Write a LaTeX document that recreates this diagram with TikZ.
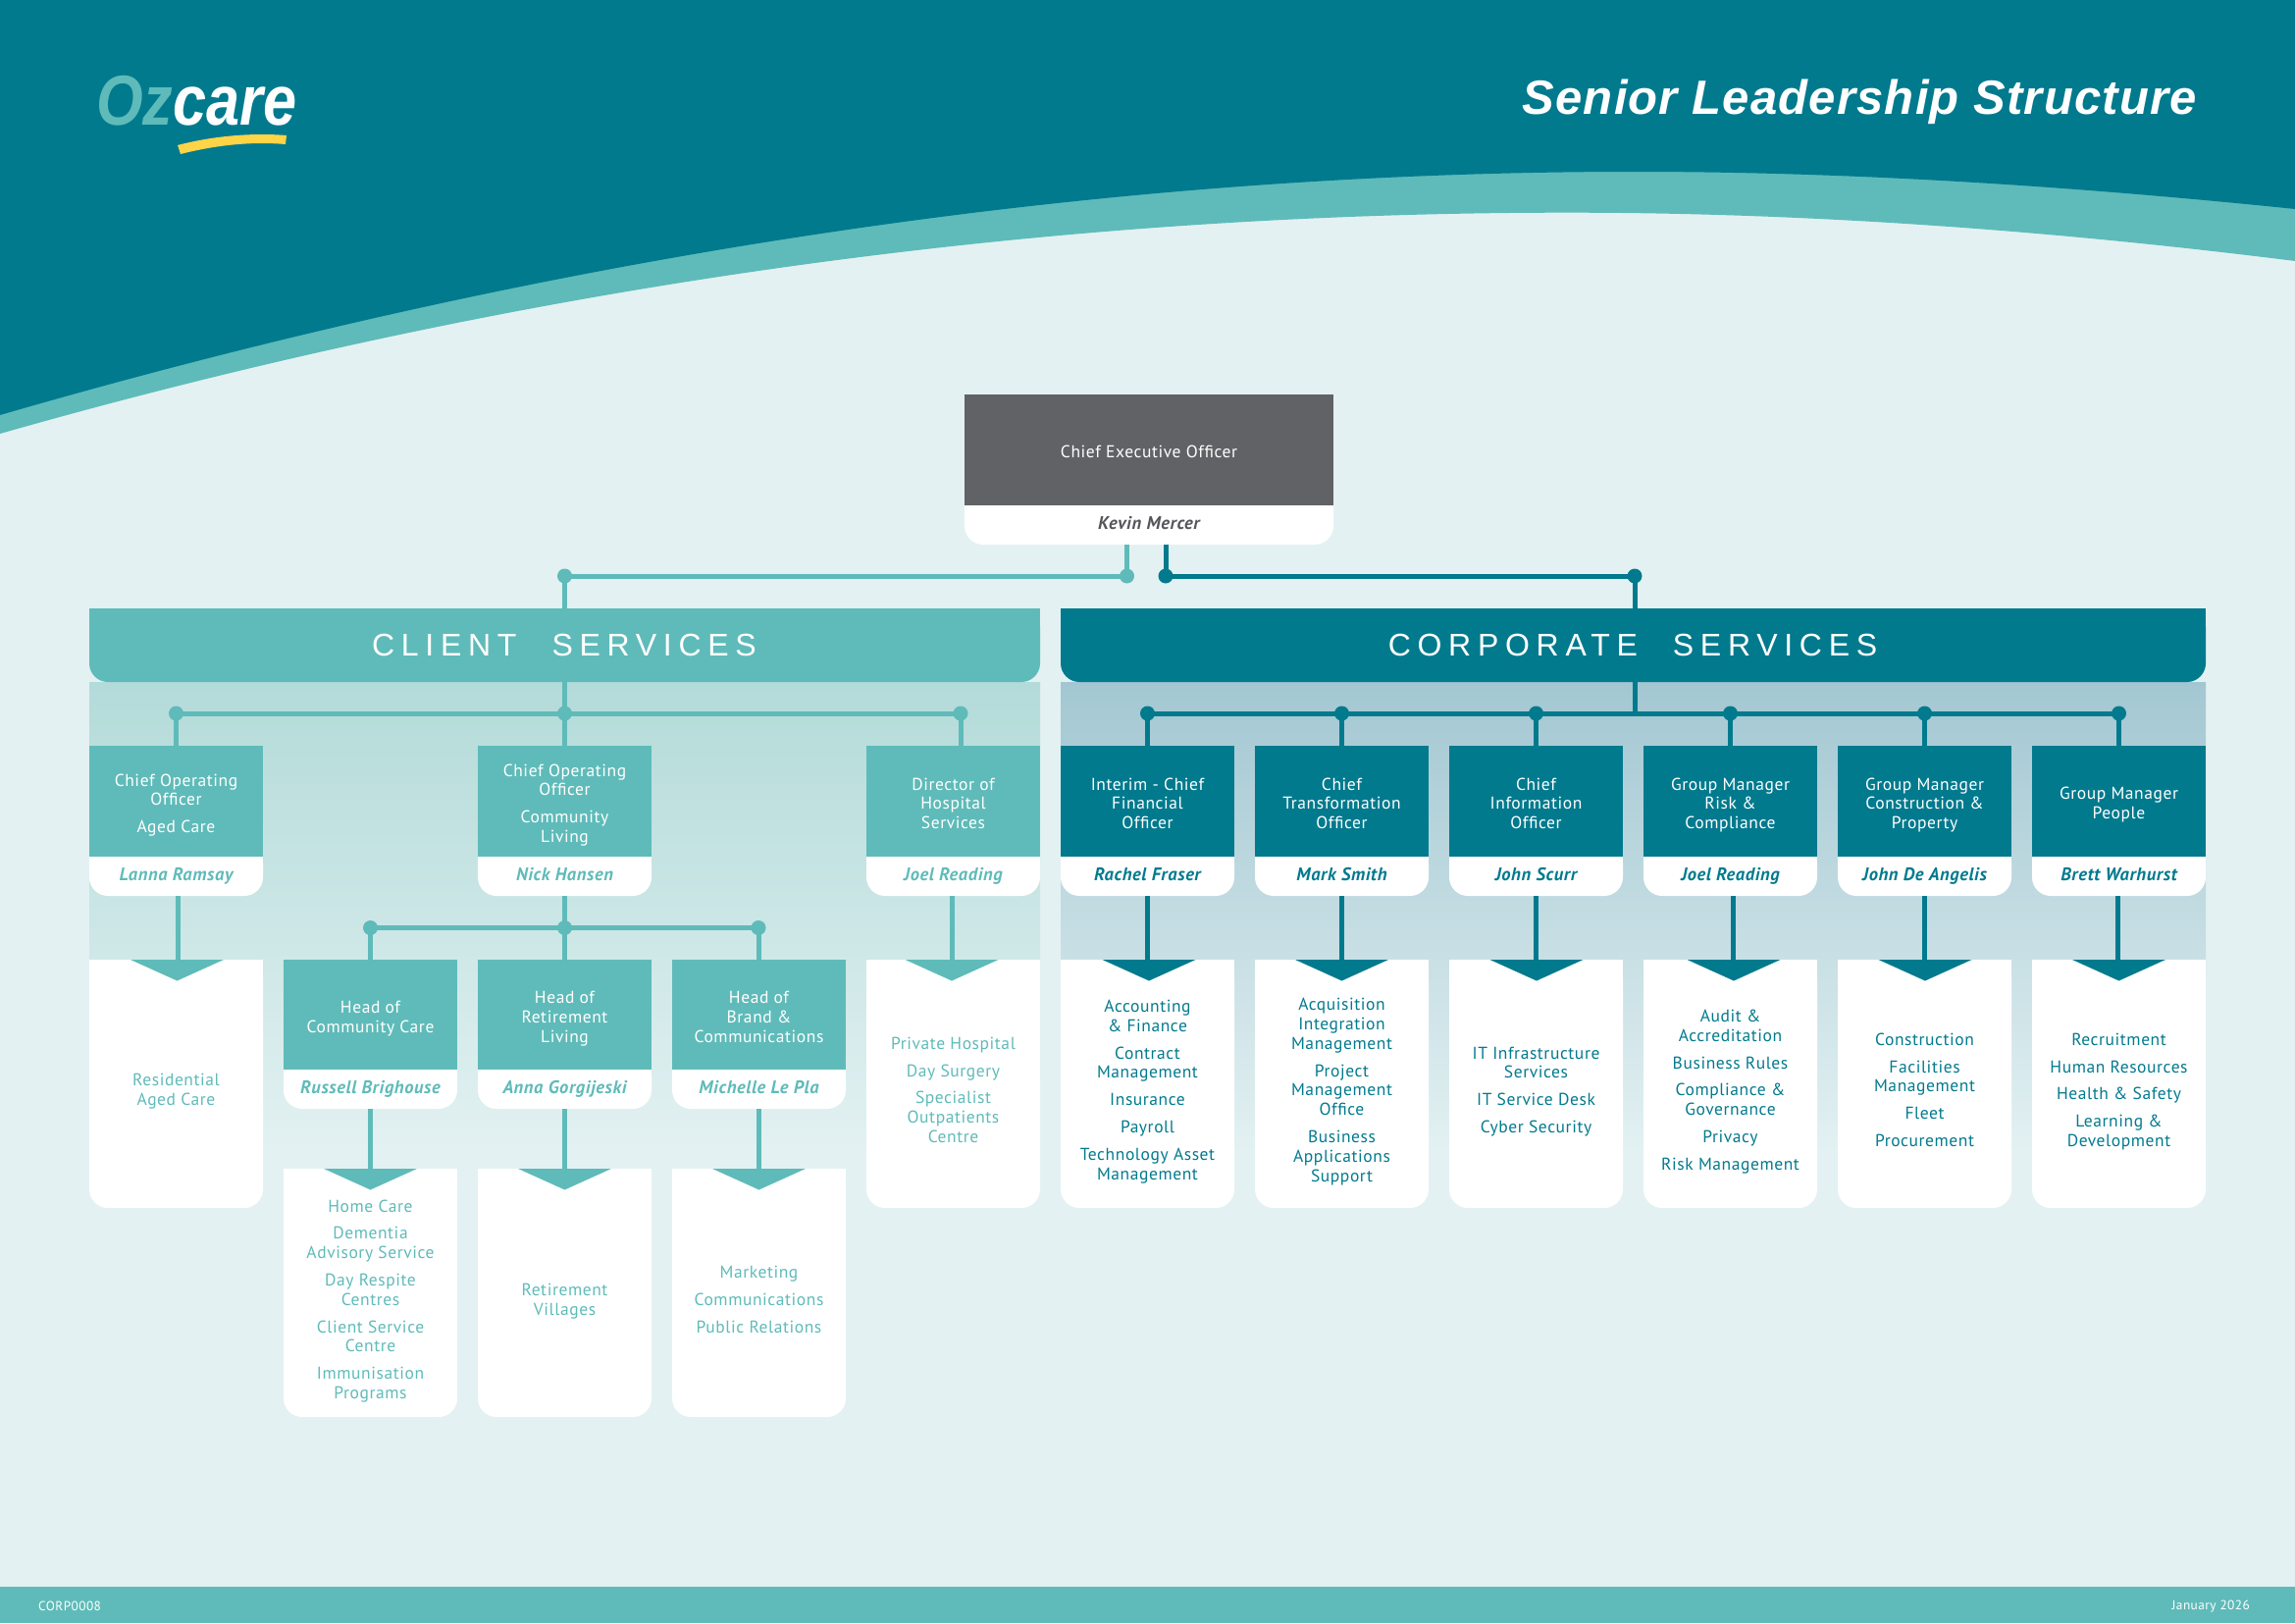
\documentclass[tikz,border=0pt]{standalone}
\usepackage{fontspec}
\setmainfont{PT Sans}
\newfontfamily\bandfont[LetterSpace=21]{Liberation Sans}
\newfontfamily\titlefont[LetterSpace=2.4]{Liberation Sans}
\newfontfamily\logofont{Liberation Sans}
\newfontfamily\bodyfont[LetterSpace=3.3]{PT Sans}
\definecolor{darkteal}{HTML}{027A8E}
\definecolor{liteteal}{HTML}{5FBBB9}
\definecolor{pagebg}{HTML}{E3F1F2}
\definecolor{ceogrey}{HTML}{616265}
\definecolor{ceoname}{HTML}{55565A}
\definecolor{fadeteal}{HTML}{B3DBD9}
\definecolor{fadeblue}{HTML}{A3C7D2}
\definecolor{logoyellow}{HTML}{FFD447}
\usetikzlibrary{calc}
\tikzset{
  x=1pt,y=-1pt,
  bodytext/.style={font=\bodyfont\fontsize{17.5}{19.8}\selectfont,align=center,inner sep=0pt,text=#1,
    execute at begin node={\vphantom{Ag}},execute at end node={\vphantom{Ag}}},
  headtext/.style={bodytext=white},
  persontext/.style={font=\bodyfont\bfseries\itshape\fontsize{18.5}{20}\selectfont,inner sep=0pt,text=#1,anchor=base},
  headbox/.style={fill=#1,anchor=north west,minimum width=177pt,inner sep=0pt,outer sep=0pt},
  roundplate/.style={fill=white,anchor=north west,minimum width=177pt,inner sep=0pt,outer sep=0pt,rounded corners=19pt},
  bulletdot/.style={circle,fill=#1,minimum size=15pt,inner sep=0pt,outer sep=0pt},
  linkline/.style={draw=#1,line width=5pt},
  bandtext/.style={font=\bandfont\fontsize{32}{36}\selectfont,text=white,inner sep=0pt},
  foottext/.style={inner sep=0pt,text=white,font=\bodyfont\fontsize{13.3}{15}\selectfont},
}
% name, x, y-top, box height, colour, title, person
\newcommand{\leadbox}[7]{%
  \pgfmathsetmacro{\plateY}{#3+#4-12}%
  \pgfmathsetmacro{\boxCX}{#2+88.5}%
  \pgfmathsetmacro{\boxCY}{#3+#4/2+4}%
  \pgfmathsetmacro{\nameCY}{#3+#4+24}%
  \node[roundplate,minimum height=52pt] (#1p) at (#2,\plateY) {};
  \fill[white] (#1p.north west) rectangle (#1p.east);
  \node[headbox=#5,minimum height=#4 pt] (#1h) at (#2,#3) {};
  \node[headtext] (#1t) at (\boxCX,\boxCY) {#6};
  \node[persontext=#5] (#1n) at (\boxCX,\nameCY) {#7};
}
% name, x, top, bottom, colour, text, text centre y, text centre x
\newcommand{\itempanel}[8]{%
  \pgfmathsetmacro{\panelH}{#4-#3}%
  \node[roundplate,minimum height=\panelH pt] (#1) at (#2,#3) {};
  \fill[white] (#1.north west) rectangle (#1.east);
  \node[bodytext=#5] (#1t) at (#8,#7) {#6};
}
% lead plate, panel, colour, line x, triangle centre x
\newcommand{\dropline}[5]{%
  \coordinate (#2a) at (#4,0);
  \coordinate (#2c) at (#5,0);
  \draw[linkline=#3] (#1p.south -| #2a) -- (#2.north -| #2a);
  \fill[#3] ($(#2.north -| #2c)+(-47.5,0)$) -- ($(#2.north -| #2c)+(47.5,0)$) -- ($(#2.north -| #2c)+(0,21.5)$) -- cycle;
}
\begin{document}
\begin{tikzpicture}
\useasboundingbox (0,0) rectangle (2339,1654);
\fill[pagebg] (0,0) rectangle (2339,1654);
% header
\fill[liteteal] (0,0) -- (0,442) .. controls (533,290) and (1065,216.7) .. (1598,216.7) .. controls (1845,216.7) and (2092,235) .. (2339,266) -- (2339,0) -- cycle;
\fill[darkteal] (0,0) -- (0,423) .. controls (555,262) and (1111,175) .. (1666,175) .. controls (1890,175) and (2115,190) .. (2339,213) -- (2339,0) -- cycle;
% logo
\node[anchor=base west,inner sep=0pt,xscale=.85,font=\logofont\bfseries\itshape\fontsize{72}{72}\selectfont] (logo) at (98,127) {\textcolor{liteteal}{Oz}\textcolor{white}{care}};
\fill[logoyellow] (181,148) .. controls (215,139) and (255,135) .. (292,138) -- (291,147) .. controls (255,144) and (220,148) .. (184,157) -- cycle;
\node[anchor=base east,inner sep=0pt,text=white,font=\titlefont\bfseries\itshape\fontsize{49}{50}\selectfont] (title) at (2239,116) {Senior Leadership Structure};
% footer
\fill[liteteal] (0,1617) rectangle (2339,1654);
\node[foottext,anchor=west] (code) at (39,1637) {CORP0008};
\node[foottext,anchor=east] (date) at (2293,1637) {January 2026};
% fading panels
\shade[top color=fadeteal,bottom color=pagebg] (91,695) rectangle (1060,1175);
\shade[top color=fadeblue,bottom color=pagebg] (1081,695) rectangle (2248,1175);
% bands
\node[roundplate,fill=liteteal,minimum width=969pt,minimum height=75pt] (clientband) at (91,620) {};
\fill[liteteal] (clientband.north west) rectangle (clientband.east);
\node[roundplate,fill=darkteal,minimum width=1167pt,minimum height=75pt] (corpband) at (1081,620) {};
\fill[darkteal] (corpband.north west) rectangle (corpband.east);
\node[bandtext] (clienttext) at (575,657) {CLIENT\hspace{36pt}SERVICES};
\node[bandtext] (corptext) at (1664,657) {CORPORATE\hspace{36pt}SERVICES};
% CEO
\node[roundplate,minimum width=376pt,minimum height=60pt] (ceop) at (983,495) {};
\fill[white] (ceop.north west) rectangle (ceop.east);
\node[headbox=ceogrey,minimum width=376pt,minimum height=113pt] (ceoh) at (983,402) {};
\node[headtext] (ceot) at (1171,462) {Chief Executive Officer};
\node[persontext=ceoname] (ceon) at (1171,539) {Kevin Mercer};
% client leaders
\leadbox{ca}{91}{760}{113}{liteteal}{Chief Operating\\Officer\\[8pt]Aged Care}{Lanna Ramsay}
\leadbox{cb}{487}{760}{113}{liteteal}{Chief Operating\\Officer\\[8pt]Community\\Living}{Nick Hansen}
\leadbox{cc}{883}{760}{113}{liteteal}{Director of\\Hospital\\Services}{Joel Reading}
\leadbox{sa}{289}{978}{112}{liteteal}{Head of\\Community Care}{Russell Brighouse}
\leadbox{sb}{487}{978}{112}{liteteal}{Head of\\Retirement\\Living}{Anna Gorgijeski}
\leadbox{sc}{685}{978}{112}{liteteal}{Head of\\Brand \&\\Communications}{Michelle Le Pla}
% corporate leaders
\leadbox{da}{1081}{760}{113}{darkteal}{Interim - Chief\\Financial\\Officer}{Rachel Fraser}
\leadbox{db}{1279}{760}{113}{darkteal}{Chief\\Transformation\\Officer}{Mark Smith}
\leadbox{dc}{1477}{760}{113}{darkteal}{Chief\\Information\\Officer}{John Scurr}
\leadbox{dd}{1675}{760}{113}{darkteal}{Group Manager\\Risk \&\\Compliance}{Joel Reading}
\leadbox{de}{1873}{760}{113}{darkteal}{Group Manager\\Construction \&\\Property}{John De Angelis}
\leadbox{df}{2071}{760}{113}{darkteal}{Group Manager\\People}{Brett Warhurst}
% panels
\itempanel{pca}{91}{978}{1231}{liteteal}{Residential\\Aged Care}{1112.5}{179.5}
\itempanel{pcc}{883}{978}{1231}{liteteal}{Private Hospital\\[8pt]Day Surgery\\[8pt]Specialist\\Outpatients\\Centre}{1112.5}{971.5}
\itempanel{psa}{289}{1191}{1444}{liteteal}{Home Care\\[8pt]Dementia\\Advisory Service\\[8pt]Day Respite\\Centres\\[8pt]Client Service\\Centre\\[8pt]Immunisation\\Programs}{1326}{377.5}
\itempanel{psb}{487}{1191}{1444}{liteteal}{Retirement\\Villages}{1326}{575.5}
\itempanel{psc}{685}{1191}{1444}{liteteal}{Marketing\\[8pt]Communications\\[8pt]Public Relations}{1326}{773.5}
\itempanel{pda}{1081}{978}{1231}{darkteal}{Accounting\\\& Finance\\[8pt]Contract\\Management\\[8pt]Insurance\\[8pt]Payroll\\[8pt]Technology Asset\\Management}{1112.5}{1169.5}
\itempanel{pdb}{1279}{978}{1231}{darkteal}{Acquisition\\Integration\\Management\\[8pt]Project\\Management\\Office\\[8pt]Business\\Applications\\Support}{1112.5}{1367.5}
\itempanel{pdc}{1477}{978}{1231}{darkteal}{IT Infrastructure\\Services\\[8pt]IT Service Desk\\[8pt]Cyber Security}{1112.5}{1565.5}
\itempanel{pdd}{1675}{978}{1231}{darkteal}{Audit \&\\Accreditation\\[8pt]Business Rules\\[8pt]Compliance \&\\Governance\\[8pt]Privacy\\[8pt]Risk Management}{1112.5}{1763.5}
\itempanel{pde}{1873}{978}{1231}{darkteal}{Construction\\[8pt]Facilities\\Management\\[8pt]Fleet\\[8pt]Procurement}{1112.5}{1961.5}
\itempanel{pdf}{2071}{978}{1231}{darkteal}{Recruitment\\[8pt]Human Resources\\[8pt]Health \& Safety\\[8pt]Learning \&\\Development}{1112.5}{2159.5}
% bullets
\node[bulletdot=liteteal] (ceoL) at (1148.5,587) {};
\node[bulletdot=liteteal] (csTop) at (575.5,587) {};
\node[bulletdot=darkteal] (ceoR) at (1188,587) {};
\node[bulletdot=darkteal] (dsTop) at (1666,587) {};
\node[bulletdot=liteteal] (cr1) at (179.5,727) {};
\node[bulletdot=liteteal] (cr2) at (575.5,727) {};
\node[bulletdot=liteteal] (cr3) at (979,727) {};
\node[bulletdot=liteteal] (sr1) at (377.5,945.5) {};
\node[bulletdot=liteteal] (sr2) at (575.5,945.5) {};
\node[bulletdot=liteteal] (sr3) at (773,945.5) {};
\node[bulletdot=darkteal] (dr1) at (1169.5,727) {};
\node[bulletdot=darkteal] (dr2) at (1367.5,727) {};
\node[bulletdot=darkteal] (dr3) at (1565.5,727) {};
\node[bulletdot=darkteal] (dr4) at (1763.5,727) {};
\node[bulletdot=darkteal] (dr5) at (1961.5,727) {};
\node[bulletdot=darkteal] (dr6) at (2159.5,727) {};
% connectors: CEO to bands
\draw[linkline=liteteal] (ceop.south -| ceoL) -- (ceoL.center) -- (csTop.center) -- (clientband.north -| csTop);
\draw[linkline=darkteal] (ceop.south -| ceoR) -- (ceoR.center) -- (dsTop.center) -- (corpband.north -| dsTop);
% bands to rows
\draw[linkline=liteteal] (clientband.south -| cr2) -- (cr2.center);
\draw[linkline=liteteal] (cr1.center) -- (cr3.center);
\draw[linkline=darkteal] (corpband.south -| dsTop) -- (dsTop |- dr1);
\draw[linkline=darkteal] (dr1.center) -- (dr6.center);
\foreach \d/\b in {cr1/cah,cr2/cbh,cr3/cch}{\draw[linkline=liteteal] (\d.center) -- (\b.north -| \d);}
\foreach \d/\b in {sr1/sah,sr2/sbh,sr3/sch}{\draw[linkline=liteteal] (\d.center) -- (\b.north -| \d);}
\foreach \d/\b in {dr1/dah,dr2/dbh,dr3/dch,dr4/ddh,dr5/deh,dr6/dfh}{\draw[linkline=darkteal] (\d.center) -- (\b.north -| \d);}
\draw[linkline=liteteal] (cbp.south -| sr2) -- (sr2.center);
\draw[linkline=liteteal] (sr1.center) -- (sr3.center);
% drops
\dropline{ca}{pca}{liteteal}{181}{180.5}
\dropline{cc}{pcc}{liteteal}{970}{970}
\dropline{sa}{psa}{liteteal}{377.5}{377.5}
\dropline{sb}{psb}{liteteal}{575.5}{575.5}
\dropline{sc}{psc}{liteteal}{773.5}{773.5}
\dropline{da}{pda}{darkteal}{1169.5}{1171}
\dropline{db}{pdb}{darkteal}{1367.5}{1367.5}
\dropline{dc}{pdc}{darkteal}{1565.5}{1566}
\dropline{dd}{pdd}{darkteal}{1766}{1767}
\dropline{de}{pde}{darkteal}{1961.5}{1962}
\dropline{df}{pdf}{darkteal}{2158.5}{2159.5}
\end{tikzpicture}
\end{document}
